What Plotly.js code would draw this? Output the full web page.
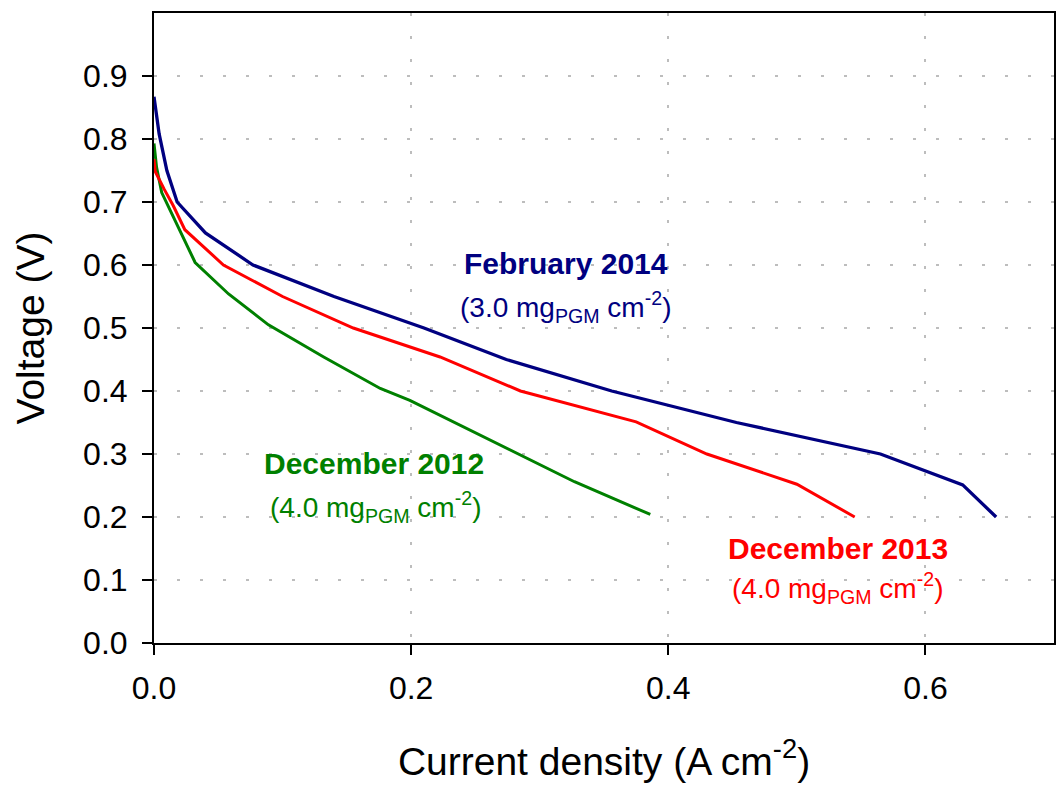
<!DOCTYPE html>
<html>
<head>
<meta charset="utf-8">
<script src="https://cdn.plot.ly/plotly-3.0.1.min.js"></script>
<style>html,body{margin:0;padding:0;background:#fff;}#chart{width:1057px;height:786px;}</style>
</head>
<body>
<div id="chart"></div>
<script>
// February 2014 (3.0 mg PGM cm-2)
const feb2014_x = [0, 0.004, 0.010, 0.018, 0.040, 0.077, 0.140, 0.210, 0.274, 0.356, 0.453, 0.565, 0.629, 0.655];
const feb2014_y = [0.867, 0.808, 0.750, 0.700, 0.651, 0.600, 0.550, 0.500, 0.450, 0.400, 0.350, 0.300, 0.251, 0.200];
// December 2013 (4.0 mg PGM cm-2)
const dec2013_x = [0, 0.001, 0.008, 0.015, 0.024, 0.054, 0.100, 0.155, 0.2225, 0.285, 0.375, 0.430, 0.500, 0.545];
const dec2013_y = [0.768, 0.748, 0.720, 0.694, 0.656, 0.600, 0.550, 0.500, 0.454, 0.400, 0.351, 0.300, 0.252, 0.200];
// December 2012 (4.0 mg PGM cm-2)
const dec2012_x = [0, 0.002, 0.006, 0.020, 0.032, 0.058, 0.089, 0.132, 0.176, 0.199, 0.300, 0.327, 0.386];
const dec2012_y = [0.793, 0.755, 0.715, 0.655, 0.604, 0.554, 0.505, 0.454, 0.404, 0.385, 0.283, 0.256, 0.204];

const xTicks = [0, 0.2, 0.4, 0.6];
const yTicks = [0, 0.1, 0.2, 0.3, 0.4, 0.5, 0.6, 0.7, 0.8, 0.9];

const NAVY = '#000080', RED = '#FF0000', GREEN = '#008000';
const FONT = 'Liberation Sans, Arial, sans-serif';

const traces = [
  {x: dec2012_x, y: dec2012_y, mode: 'lines', line: {color: GREEN, width: 3}, name: 'December 2012'},
  {x: dec2013_x, y: dec2013_y, mode: 'lines', line: {color: RED, width: 3}, name: 'December 2013'},
  {x: feb2014_x, y: feb2014_y, mode: 'lines', line: {color: NAVY, width: 3.3}, name: 'February 2014'}
];

const axisCommon = {
  showline: true, linecolor: '#000', linewidth: 2, mirror: true,
  ticks: 'outside', ticklen: 10, tickwidth: 2, tickcolor: '#000',
  showgrid: true, gridcolor: '#BDBDBD', gridwidth: 2, griddash: '3px,20px',
  zeroline: false, tickformat: '.1f',
  tickfont: {family: FONT, size: 32, color: '#000'}
};

function ann(x, y, text, color, bold) {
  return {x: x, y: y, xref: 'x', yref: 'y', showarrow: false,
    text: bold ? '<b>' + text + '</b>' : text,
    font: {family: FONT, size: bold ? 30 : 28, color: color}, xanchor: 'center', yanchor: 'middle'};
}

const layout = {
  width: 1057, height: 786,
  margin: {l: 154, r: 3, t: 13, b: 143},
  paper_bgcolor: '#fff', plot_bgcolor: '#fff',
  showlegend: false,
  xaxis: Object.assign({}, axisCommon, {
    range: [0, 0.7], tickvals: xTicks, ticklabelstandoff: 6,
    title: {text: 'Current density (A cm<sup>-2</sup>)', font: {family: FONT, size: 39, color: '#000'}, standoff: 42}
  }),
  yaxis: Object.assign({}, axisCommon, {
    range: [0, 1.0], tickvals: yTicks, ticklabelstandoff: 8,
    title: {text: 'Voltage (V)', font: {family: FONT, size: 39, color: '#000'}, standoff: 26}
  }),
  annotations: [
    ann(0.3204, 0.602, 'February 2014', NAVY, true),
    ann(0.3204, 0.534, '(3.0 mg<sub>PGM</sub> cm<sup>-2</sup>)', NAVY, false),
    ann(0.1712, 0.2845, 'December 2012', GREEN, true),
    ann(0.1720, 0.2155, '(4.0 mg<sub>PGM</sub> cm<sup>-2</sup>)', GREEN, false),
    ann(0.5318, 0.1506, 'December 2013', RED, true),
    ann(0.5318, 0.0872, '(4.0 mg<sub>PGM</sub> cm<sup>-2</sup>)', RED, false)
  ]
};

Plotly.newPlot('chart', traces, layout, {displayModeBar: false, staticPlot: true});
</script>
</body>
</html>
